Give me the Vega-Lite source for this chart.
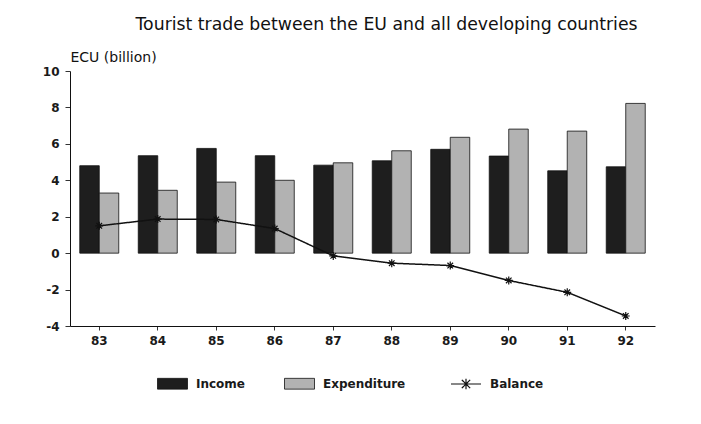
{
  "$schema": "https://vega.github.io/schema/vega-lite/v6.json",
  "width": 585,
  "height": 255,
  "autosize": {"type": "none"},
  "padding": {"left": 70, "top": 71, "right": 46, "bottom": 98},
  "background": "white",
  "title": {
    "text": "Tourist trade between the EU and all developing countries",
    "font": "DejaVu Sans",
    "fontSize": 17.3,
    "fontWeight": "normal",
    "color": "#111",
    "anchor": "middle",
    "frame": "group",
    "dx": 24,
    "offset": 17
  },
  "datasets": {
    "bars": [
      {"year": "83", "series": "Income", "value": 4.8},
      {"year": "83", "series": "Expenditure", "value": 3.3},
      {"year": "84", "series": "Income", "value": 5.35},
      {"year": "84", "series": "Expenditure", "value": 3.45},
      {"year": "85", "series": "Income", "value": 5.75},
      {"year": "85", "series": "Expenditure", "value": 3.9},
      {"year": "86", "series": "Income", "value": 5.35},
      {"year": "86", "series": "Expenditure", "value": 4.0},
      {"year": "87", "series": "Income", "value": 4.83},
      {"year": "87", "series": "Expenditure", "value": 4.96},
      {"year": "88", "series": "Income", "value": 5.07},
      {"year": "88", "series": "Expenditure", "value": 5.62},
      {"year": "89", "series": "Income", "value": 5.7},
      {"year": "89", "series": "Expenditure", "value": 6.36},
      {"year": "90", "series": "Income", "value": 5.33},
      {"year": "90", "series": "Expenditure", "value": 6.81},
      {"year": "91", "series": "Income", "value": 4.52},
      {"year": "91", "series": "Expenditure", "value": 6.7},
      {"year": "92", "series": "Income", "value": 4.74},
      {"year": "92", "series": "Expenditure", "value": 8.22}
    ],
    "balance": [
      {"year": "83", "balance": 1.5},
      {"year": "84", "balance": 1.87},
      {"year": "85", "balance": 1.85},
      {"year": "86", "balance": 1.35},
      {"year": "87", "balance": -0.15},
      {"year": "88", "balance": -0.55},
      {"year": "89", "balance": -0.68},
      {"year": "90", "balance": -1.5},
      {"year": "91", "balance": -2.15},
      {"year": "92", "balance": -3.45}
    ]
  },
  "encoding": {
    "x": {
      "field": "year",
      "type": "ordinal",
      "scale": {"paddingInner": 0.3333, "paddingOuter": 0.1667},
      "axis": {
        "title": null,
        "labelAngle": 0,
        "labelFont": "DejaVu Sans",
        "labelFontSize": 12,
        "labelFontWeight": "bold",
        "labelColor": "#1a1a1a",
        "labelPadding": 5,
        "tickSize": 4,
        "tickColor": "#333",
        "domainColor": "#111",
        "domainWidth": 1
      }
    }
  },
  "layer": [
    {
      "data": {"name": "bars"},
      "mark": {"type": "bar", "stroke": "#111", "strokeWidth": 0.8},
      "encoding": {
        "xOffset": {
          "field": "series",
          "type": "nominal",
          "sort": ["Income", "Expenditure"],
          "scale": {"paddingInner": 0, "paddingOuter": 0}
        },
        "y": {
          "field": "value",
          "type": "quantitative",
          "scale": {"domain": [-4, 10], "nice": false, "zero": false},
          "axis": {
            "title": "ECU (billion)",
            "titleAngle": 0,
            "titleAlign": "left",
            "titleBaseline": "bottom",
            "titleX": 0,
            "titleY": -7,
            "titleFont": "DejaVu Sans",
            "titleFontSize": 14,
            "titleFontWeight": "normal",
            "titleColor": "#111",
            "values": [-4, -2, 0, 2, 4, 6, 8, 10],
            "tickCount": 10,
            "labelExpr": "'' + datum.value",
            "labelOverlap": false,
            "grid": false,
            "labelFont": "DejaVu Sans",
            "labelFontSize": 12,
            "labelFontWeight": "bold",
            "labelColor": "#1a1a1a",
            "labelPadding": 6,
            "tickSize": 5,
            "tickColor": "#333",
            "domainColor": "#111",
            "domainWidth": 1
          }
        },
        "color": {
          "field": "series",
          "type": "nominal",
          "sort": ["Income", "Expenditure"],
          "scale": {"domain": ["Income", "Expenditure"], "range": ["#1e1e1e", "#b2b2b2"]},
          "legend": {
            "title": null,
            "orient": "none",
            "legendX": 87,
            "legendY": 297,
            "direction": "horizontal",
            "columnPadding": 36,
            "symbolType": "M-1,-0.36H1V0.36H-1Z",
            "symbolSize": 900,
            "symbolStrokeColor": "#111",
            "symbolStrokeWidth": 0.8,
            "labelFont": "DejaVu Sans",
            "labelFontSize": 12,
            "labelFontWeight": "bold",
            "labelColor": "#1a1a1a",
            "labelOffset": 8
          }
        }
      }
    },
    {
      "mark": {"type": "rule", "color": "#111", "strokeWidth": 1},
      "encoding": {"y": {"datum": 0}}
    },
    {
      "data": {"name": "balance"},
      "mark": {"type": "line", "color": "#111", "strokeWidth": 1.5},
      "encoding": {
        "y": {"field": "balance", "type": "quantitative"},
        "strokeDash": {
          "datum": "Balance",
          "scale": {"range": [[1, 0]]},
          "legend": {
            "title": null,
            "orient": "none",
            "legendX": 380,
            "legendY": 297,
            "symbolType": "M-1,0H1M-0.28,-0.28L0.28,0.28M-0.28,0.28L0.28,-0.28M0,-0.35V0.35",
            "symbolSize": 900,
            "symbolStrokeColor": "#111",
            "symbolStrokeWidth": 1.2,
            "labelFont": "DejaVu Sans",
            "labelFontSize": 12,
            "labelFontWeight": "bold",
            "labelColor": "#1a1a1a",
            "labelOffset": 8
          }
        }
      }
    },
    {
      "data": {"name": "balance"},
      "mark": {
        "type": "point",
        "shape": "M-1,0L1,0M0,-1L0,1M-0.7,-0.7L0.7,0.7M-0.7,0.7L0.7,-0.7",
        "filled": false,
        "stroke": "#111",
        "strokeWidth": 1.2,
        "size": 64,
        "opacity": 1
      },
      "encoding": {
        "y": {"field": "balance", "type": "quantitative"}
      }
    }
  ],
  "config": {
    "view": {"stroke": null}
  }
}
